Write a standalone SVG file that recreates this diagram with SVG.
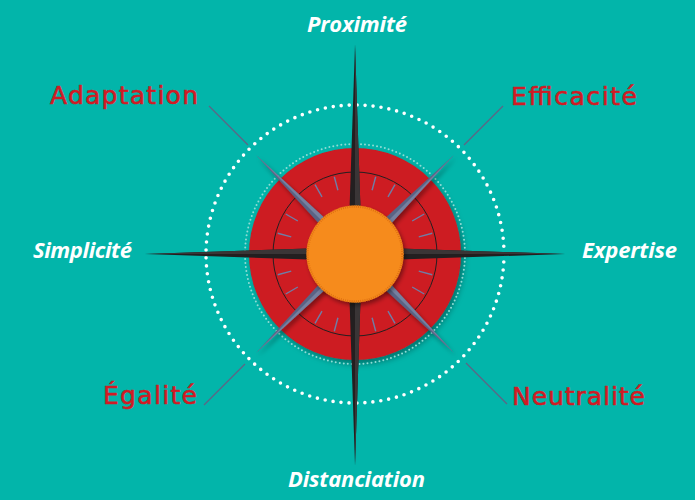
<svg xmlns="http://www.w3.org/2000/svg" width="695" height="500" viewBox="0 0 695 500">
<defs>
<style>
.red{font-family:"DejaVu Sans","Liberation Sans",sans-serif;font-size:25px;fill:#d11a24;stroke:#d11a24;stroke-width:0.6}
.wht{font-family:"Open Sans","Noto Sans",sans-serif;font-size:22px;font-weight:700;font-style:italic;fill:#ffffff}
.ext{stroke:#5d6585;stroke-width:1.3;fill:none}
.tick{stroke:#6f7ea6;stroke-width:1.4}
</style>
<filter id="sh" x="-30%" y="-30%" width="160%" height="160%">
<feDropShadow dx="3" dy="4" stdDeviation="3" flood-color="#000" flood-opacity="0.35"/>
</filter>
<filter id="sh2" x="-30%" y="-30%" width="160%" height="160%">
<feDropShadow dx="2" dy="3" stdDeviation="2" flood-color="#000" flood-opacity="0.4"/>
</filter>
</defs>
<rect width="695" height="500" fill="#02b5aa"/>

<g id="rings">
<circle cx="355" cy="254" r="149" fill="none" stroke="#ffffff" stroke-width="3.6" stroke-linecap="round" stroke-dasharray="0 8"/>
<circle cx="355" cy="254" r="106" fill="#cd1a22" filter="url(#sh)"/>
<circle cx="355" cy="254" r="110" fill="none" stroke="#8fdcd5" stroke-width="2" stroke-linecap="round" stroke-dasharray="0 4"/>
<circle cx="355" cy="254" r="82" fill="none" stroke="#231f20" stroke-width="1"/>
</g>

<g id="ticks" transform="translate(355 254)">
<g class="tick">
<line x1="0" y1="-66" x2="0" y2="-80" transform="rotate(15)"/>
<line x1="0" y1="-66" x2="0" y2="-80" transform="rotate(30)"/>
<line x1="0" y1="-66" x2="0" y2="-80" transform="rotate(60)"/>
<line x1="0" y1="-66" x2="0" y2="-80" transform="rotate(75)"/>
<line x1="0" y1="-66" x2="0" y2="-80" transform="rotate(105)"/>
<line x1="0" y1="-66" x2="0" y2="-80" transform="rotate(120)"/>
<line x1="0" y1="-66" x2="0" y2="-80" transform="rotate(150)"/>
<line x1="0" y1="-66" x2="0" y2="-80" transform="rotate(165)"/>
<line x1="0" y1="-66" x2="0" y2="-80" transform="rotate(195)"/>
<line x1="0" y1="-66" x2="0" y2="-80" transform="rotate(210)"/>
<line x1="0" y1="-66" x2="0" y2="-80" transform="rotate(240)"/>
<line x1="0" y1="-66" x2="0" y2="-80" transform="rotate(255)"/>
<line x1="0" y1="-66" x2="0" y2="-80" transform="rotate(285)"/>
<line x1="0" y1="-66" x2="0" y2="-80" transform="rotate(300)"/>
<line x1="0" y1="-66" x2="0" y2="-80" transform="rotate(330)"/>
<line x1="0" y1="-66" x2="0" y2="-80" transform="rotate(345)"/>
</g>
</g>

<g id="connectors">
<line class="ext" x1="209" y1="106" x2="248" y2="145"/>
<line class="ext" x1="503" y1="106" x2="464" y2="145"/>
<line class="ext" x1="204" y1="405" x2="245" y2="364"/>
<line class="ext" x1="507" y1="404" x2="466" y2="363"/>
</g>

<g id="diagonal-needles" transform="translate(355 254)" filter="url(#sh2)">
<g transform="rotate(45)">
<polygon points="0,-140 6,0 0,140 -6,0" fill="#5a6384"/>
<polygon points="0,-140 6,0 0,140" fill="#76809f"/>
</g>
<g transform="rotate(-45)">
<polygon points="0,-140 6,0 0,140 -6,0" fill="#5a6384"/>
<polygon points="0,-140 6,0 0,140" fill="#76809f"/>
</g>
</g>

<g id="main-needles" transform="translate(355 254)">
<polygon points="0,-209 7,0 0,211 -7,0" fill="#231f20"/>
<polygon points="0,-209 7,0 0,211" fill="#3a3536"/>
<polygon points="-210,0 0,-7 210,0 0,7" fill="#231f20"/>
<polygon points="-210,0 0,-7 210,0" fill="#3a3536"/>
</g>

<g id="hub">
<circle cx="355" cy="254" r="48.5" fill="#f68b1f" filter="url(#sh2)"/>
<circle cx="355" cy="254" r="47.5" fill="none" stroke="#e07212" stroke-width="2.5" stroke-dasharray="1 1.2"/>
</g>

<g id="node-proximite"><text class="wht" x="307" y="32" textLength="100">Proximité</text></g>
<g id="node-simplicite"><text class="wht" x="33" y="258" textLength="99">Simplicité</text></g>
<g id="node-expertise"><text class="wht" x="582" y="258" textLength="95">Expertise</text></g>
<g id="node-distanciation"><text class="wht" x="288" y="487" textLength="137">Distanciation</text></g>

<g id="node-adaptation"><text class="red" x="50" y="104" textLength="148">Adaptation</text></g>
<g id="node-efficacite"><text class="red" x="511" y="105" textLength="126">Efficacité</text></g>
<g id="node-egalite"><text class="red" x="103" y="404" textLength="94">Égalité</text></g>
<g id="node-neutralite"><text class="red" x="512" y="405" textLength="133">Neutralité</text></g>
</svg>
